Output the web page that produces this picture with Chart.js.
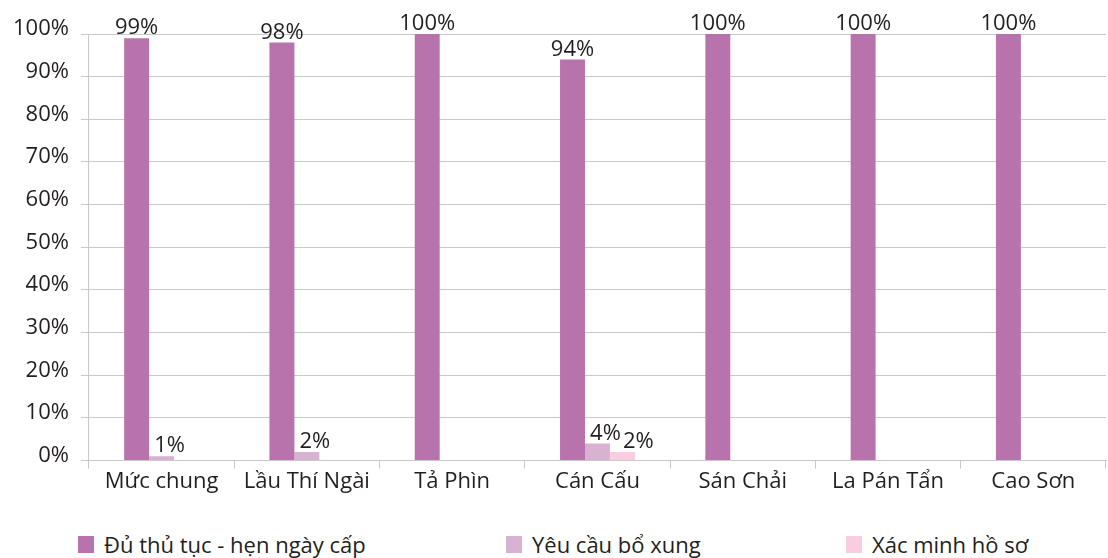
<!DOCTYPE html>
<html>
<head>
<meta charset="utf-8">
<script src="https://cdn.jsdelivr.net/npm/chart.js@4.4.1/dist/chart.umd.min.js"></script>
<style>
  html, body { margin: 0; padding: 0; background: #fff; }
  #wrap { position: relative; width: 1108px; height: 515px; }
  #legend { display: flex; width: 1108px; height: 43px; padding-top: 15px; box-sizing: border-box;
            padding-left: 78px; font-family: "Open Sans", sans-serif; font-size: 22px; color: #231f20; }
  #legend .item { display: flex; align-items: center; }
  #legend .box { width: 16px; height: 17px; margin-right: 10px; }
</style>
</head>
<body>
<div id="wrap"><canvas id="myChart"></canvas></div>
<div id="legend"></div>
<script>
const categories = ['Mức chung', 'Lầu Thí Ngài', 'Tả Phìn', 'Cán Cấu', 'Sán Chải', 'La Pán Tẩn', 'Cao Sơn'];
const seriesNames = ['Đủ thủ tục - hẹn ngày cấp', 'Yêu cầu bổ xung', 'Xác minh hồ sơ'];
const duThuTuc = [99, 98, 100, 94, 100, 100, 100];
const yeuCauBoXung = [1, 2, 0, 4, 0, 0, 0];
const xacMinhHoSo = [0, 0, 0, 2, 0, 0, 0];
const yTicks = [0, 10, 20, 30, 40, 50, 60, 70, 80, 90, 100];

const colors = ['#b873ad', '#d7b2d3', '#f8cde0'];
const labelShift = [0, 8, 16];   // keeps the small labels from overlapping
const textColor = '#231f20';
const gridColor = '#c9c9c9';
const font = { family: '"Open Sans", sans-serif', size: 22 };

// value labels above each non-zero bar
const barLabels = {
  id: 'barLabels',
  afterDatasetsDraw(chart) {
    const ctx = chart.ctx;
    ctx.save();
    ctx.font = `${font.size}px ${font.family}`;
    ctx.fillStyle = textColor;
    ctx.textAlign = 'center';
    ctx.textBaseline = 'alphabetic';
    chart.data.datasets.forEach((ds, i) => {
      chart.getDatasetMeta(i).data.forEach((bar, j) => {
        const v = ds.data[j];
        if (!v) return;
        ctx.fillText(v + '%', bar.x + labelShift[i], bar.y - 4);
      });
    });
    ctx.restore();
  }
};

const seriesData = [duThuTuc, yeuCauBoXung, xacMinhHoSo];

new Chart(document.getElementById('myChart').getContext('2d'), {
  type: 'bar',
  data: {
    labels: categories,
    datasets: seriesData.map((d, i) => ({
      label: seriesNames[i],
      data: d,
      backgroundColor: colors[i],
      categoryPercentage: 0.515,
      barPercentage: 1
    }))
  },
  options: {
    responsive: true,
    maintainAspectRatio: false,
    animation: false,
    layout: { padding: { left: 1, right: 2, top: 34, bottom: 20 } },
    plugins: { legend: { display: false }, tooltip: { enabled: false } },
    scales: {
      x: {
        grid: { drawOnChartArea: false, drawTicks: true, tickLength: 8, color: gridColor },
        border: { color: gridColor },
        ticks: { color: textColor, font: font, padding: 0 }
      },
      y: {
        min: 0,
        max: 100,
        afterBuildTicks: axis => { axis.ticks = yTicks.map(v => ({ value: v })); },
        grid: { color: gridColor, tickLength: 8 },
        border: { color: gridColor },
        ticks: { color: textColor, font: font, padding: 12, labelOffset: -5, callback: v => v + '%' }
      }
    }
  },
  plugins: [barLabels]
});

// legend row under the chart
const legendWidths = [428, 340, 240];
const legend = document.getElementById('legend');
seriesNames.forEach((name, i) => {
  const item = document.createElement('div');
  item.className = 'item';
  item.style.width = legendWidths[i] + 'px';
  const box = document.createElement('span');
  box.className = 'box';
  box.style.background = colors[i];
  item.appendChild(box);
  item.appendChild(document.createTextNode(name));
  legend.appendChild(item);
});
</script>
</body>
</html>
